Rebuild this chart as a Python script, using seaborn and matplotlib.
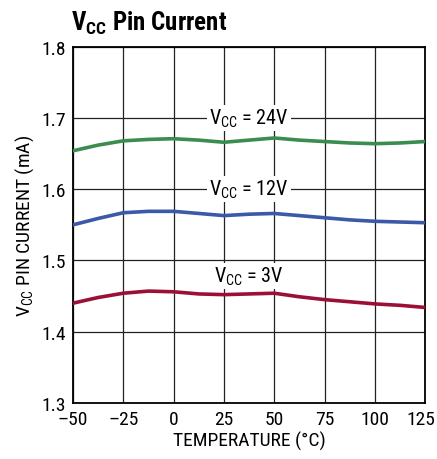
import matplotlib
matplotlib.use('Agg')
import matplotlib.pyplot as plt
import matplotlib.transforms as mtransforms
import seaborn as sns
import pandas as pd

# данные
temps = [-50, -37.5, -25, -12.5, 0, 12.5, 25, 37.5, 50, 62.5, 75, 87.5, 100, 112.5, 125]
i_24v = [1.654, 1.662, 1.668, 1.670, 1.671, 1.669, 1.666, 1.669, 1.672, 1.669, 1.667, 1.665, 1.664, 1.665, 1.667]
i_12v = [1.550, 1.559, 1.567, 1.569, 1.569, 1.566, 1.563, 1.565, 1.566, 1.563, 1.560, 1.557, 1.555, 1.554, 1.553]
i_3v = [1.440, 1.448, 1.454, 1.457, 1.456, 1.453, 1.452, 1.453, 1.454, 1.449, 1.445, 1.442, 1.439, 1.437, 1.434]

series_labels = ['24V', '12V', '3V']
x_ticks = [-50, -25, 0, 25, 50, 75, 100, 125]
x_tick_labels = ['–50', '–25', '0', '25', '50', '75', '100', '125']
y_ticks = [1.3, 1.4, 1.5, 1.6, 1.7, 1.8]

df = pd.DataFrame({
    'temp': temps * 3,
    'current': i_24v + i_12v + i_3v,
    'vcc': [series_labels[0]] * len(temps) + [series_labels[1]] * len(temps) + [series_labels[2]] * len(temps),
})

sns.set_style('white')
font = 'Roboto Condensed'
plt.rcParams['font.family'] = [font, 'DejaVu Sans']
plt.rcParams['mathtext.fontset'] = 'custom'
plt.rcParams['mathtext.rm'] = font
plt.rcParams['mathtext.bf'] = font + ':bold'
plt.rcParams['text.color'] = 'black'
plt.rcParams['axes.labelcolor'] = 'black'
plt.rcParams['xtick.color'] = 'black'
plt.rcParams['ytick.color'] = 'black'

fig = plt.figure(figsize=(4.37, 4.6), dpi=100)
ax = fig.add_axes([0.167, 0.122, 0.806, 0.774])

palette = {'24V': '#3b8c51', '12V': '#3c58a8', '3V': '#9c1038'}
sns.lineplot(data=df, x='temp', y='current', hue='vcc', palette=palette,
             linewidth=2.6, legend=False, ax=ax, zorder=3)

ax.set_xlim(-50, 125)
ax.set_ylim(1.3, 1.8)
ax.set_xticks(x_ticks)
ax.set_xticklabels(x_tick_labels, fontsize=14)
ax.set_yticks(y_ticks)
ax.set_yticklabels([f'{v:.1f}' for v in y_ticks], fontsize=14)
ax.tick_params(length=0, pad=5)
# чуть сдвигаем "125", чтобы не обрезалось краем
last = ax.get_xticklabels()[-1]
last.set_transform(last.get_transform() + mtransforms.ScaledTranslation(-3 / 72, 0, fig.dpi_scale_trans))
ax.grid(True, color='#222222', linewidth=0.9)
for s in ax.spines.values():
    s.set_color('black')
    s.set_linewidth(1.3)

ax.set_xlabel('TEMPERATURE (°C)', fontsize=14, labelpad=2)
ax.set_ylabel(r'V$_{\mathregular{CC}}$ PIN CURRENT (mA)', fontsize=14, labelpad=4)

# подписи кривых
lbl_pos = {'24V': 1.7, '12V': 1.6, '3V': 1.478}
for name in series_labels:
    ax.text(37.5, lbl_pos[name], r'V$_{\mathregular{CC}}$ = ' + name, fontsize=14.5,
            ha='center', va='center', zorder=4,
            bbox=dict(facecolor='white', edgecolor='none', pad=1.5))

fig.text(0.163, 0.933, r'V$_{\mathbf{CC}}$ Pin Current', fontsize=18, fontweight='bold',
         ha='left', va='baseline')

fig.savefig('out.png', dpi=100)
